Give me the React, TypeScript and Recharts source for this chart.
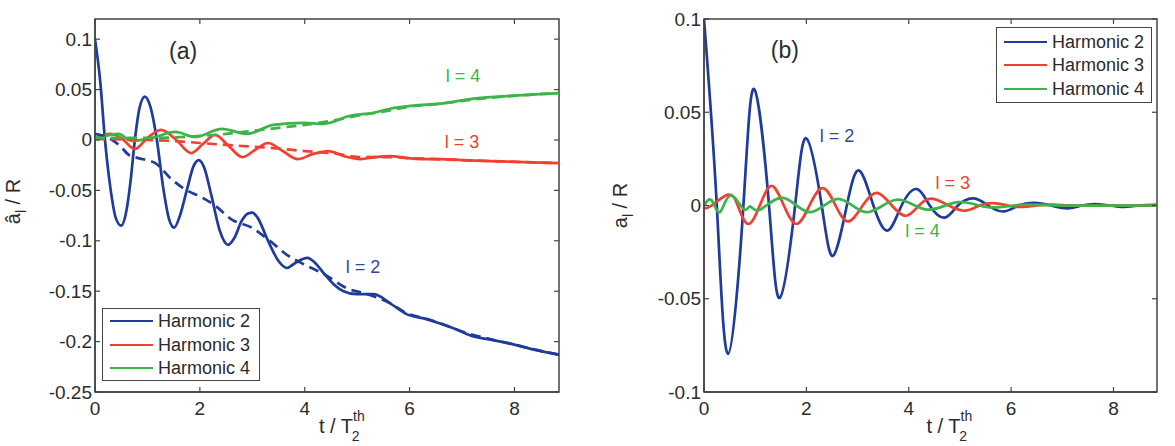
import React from 'react';
import { LineChart, Line, XAxis, YAxis, ReferenceArea, ReferenceDot, Legend } from 'recharts';

const FONT = '"Liberation Sans", Arial, Helvetica, sans-serif';
const BLUE = '#1f3b9b';
const RED = '#f2402f';
const GREEN = '#3cb44a';
const AXIS = '#444444';
const TXT = '#2b2b2b';

const xTicks = [0, 2, 4, 6, 8];
const yTicksA = [-0.25, -0.2, -0.15, -0.1, -0.05, 0, 0.05, 0.1];
const yTicksB = [-0.1, -0.05, 0, 0.05, 0.1];
const seriesNames = ['Harmonic 2', 'Harmonic 3', 'Harmonic 4'];
const X_MAX = 8.85;
const Y_DOMAIN_A: [number, number] = [-0.25, 0.12];
const Y_DOMAIN_B: [number, number] = [-0.1, 0.1];

// ---- panel (a) ----
const aH2Solid = [
  [0, 0.1], [0.1, 0.058], [0.19, 0.0], [0.3, -0.05], [0.4, -0.078], [0.5, -0.085], [0.6, -0.07], [0.68, -0.04],
  [0.76, 0], [0.85, 0.032], [0.95, 0.043], [1.05, 0.034], [1.18, 0], [1.3, -0.047], [1.41, -0.078], [1.51, -0.087],
  [1.62, -0.075], [1.75, -0.05], [1.88, -0.026], [1.98, -0.02], [2.08, -0.027], [2.22, -0.055], [2.38, -0.09],
  [2.54, -0.104], [2.66, -0.097], [2.8, -0.08], [2.92, -0.073], [3.0, -0.072], [3.1, -0.077], [3.3, -0.1],
  [3.5, -0.12], [3.66, -0.127], [3.82, -0.122], [4.05, -0.117], [4.2, -0.122], [4.36, -0.132], [4.55, -0.143],
  [4.74, -0.15], [4.99, -0.153], [5.31, -0.153], [5.63, -0.162], [5.95, -0.173], [6.27, -0.177], [6.58, -0.182],
  [6.9, -0.188], [7.22, -0.195], [7.54, -0.198], [7.92, -0.202], [8.37, -0.208], [8.85, -0.213],
];
const aH2Dash = [
  [0, 0.006], [0.3, 0.001], [0.48, -0.006], [0.65, -0.015], [0.83, -0.018], [1.15, -0.023], [1.46, -0.039],
  [1.72, -0.049], [2.04, -0.057], [2.29, -0.065], [2.61, -0.079], [2.99, -0.087], [3.31, -0.099], [3.69, -0.115],
  [3.97, -0.123], [4.4, -0.134], [4.8, -0.147], [5.2, -0.153], [5.63, -0.162], [5.95, -0.172], [6.3, -0.177],
  [6.6, -0.182], [7.0, -0.19], [7.5, -0.197], [8.0, -0.203], [8.4, -0.208], [8.85, -0.213],
];
const aH3Solid = [
  [0, 0.001], [0.3, 0.006], [0.5, 0.002], [0.76, -0.009], [1.0, 0.002], [1.26, 0.01], [1.55, 0.0], [1.83, -0.013],
  [2.06, -0.004], [2.29, 0.005], [2.55, -0.006], [2.81, -0.017], [3.05, -0.01], [3.3, -0.003], [3.58, -0.011],
  [3.87, -0.019], [4.15, -0.014], [4.45, -0.011], [4.75, -0.016], [5.06, -0.019], [5.35, -0.017], [5.63, -0.016],
  [5.95, -0.018], [6.26, -0.019], [6.6, -0.019], [7.0, -0.02], [7.54, -0.021], [8.2, -0.022], [8.85, -0.023],
];
const aH3Dash = [
  [0, 0.001], [1.0, 0.0], [1.5, -0.001], [2.0, -0.003], [2.8, -0.006], [3.4, -0.008], [4.0, -0.011], [4.5, -0.013],
  [5.1, -0.017], [5.6, -0.017], [6.0, -0.018], [6.5, -0.019], [7.0, -0.02], [7.6, -0.021], [8.2, -0.022], [8.85, -0.023],
];
const aH4Solid = [
  [0, 0.002], [0.2, 0.004], [0.45, 0.006], [0.7, -0.001], [1.08, 0.002], [1.53, 0.008], [1.91, 0.003], [2.42, 0.011],
  [2.9, 0.006], [3.4, 0.015], [3.98, 0.017], [4.36, 0.016], [4.87, 0.024], [5.31, 0.027], [5.63, 0.031],
  [6.07, 0.034], [6.58, 0.036], [7.22, 0.041], [7.86, 0.0435], [8.85, 0.0465],
];
const aH4Dash = [
  [0, 0.002], [1.0, 0.002], [2.0, 0.004], [2.5, 0.006], [3.0, 0.009], [3.5, 0.012], [4.0, 0.015], [4.5, 0.019],
  [5.0, 0.024], [5.5, 0.028], [6.0, 0.033], [6.6, 0.036], [7.2, 0.04], [7.9, 0.0435], [8.85, 0.0465],
];

// ---- panel (b) ----
const bH2 = [
  [0, 0.1], [0.25, 0], [0.47, -0.0796], [0.77, 0], [0.98, 0.0624], [1.27, 0], [1.48, -0.0495], [1.78, 0],
  [2.0, 0.036], [2.3, 0], [2.52, -0.027], [2.79, 0], [3.03, 0.0188], [3.31, 0], [3.59, -0.0134], [3.86, 0],
  [4.16, 0.0088], [4.41, 0], [4.7, -0.0065], [4.96, 0], [5.27, 0.0038], [5.55, 0], [5.85, -0.0032], [6.15, 0],
  [6.45, 0.0014], [6.78, 0], [7.1, -0.0015], [7.38, 0], [7.65, 0.0008], [7.93, 0], [8.2, -0.0008], [8.5, 0],
  [8.85, 0.0003],
];
const bH3 = [
  [0, -0.0015], [0.15, 0], [0.47, 0.0058], [0.66, 0], [0.86, -0.0099], [1.09, 0], [1.32, 0.0105], [1.56, 0],
  [1.81, -0.0099], [2.06, 0], [2.32, 0.0093], [2.57, 0], [2.82, -0.0085], [3.1, 0], [3.38, 0.0068], [3.67, 0],
  [3.95, -0.0055], [4.2, 0], [4.45, 0.0037], [4.78, 0], [5.1, -0.0028], [5.38, 0], [5.65, 0.0013], [5.93, 0],
  [6.2, -0.0008], [6.5, 0], [6.8, 0.0005], [7.3, 0], [8.85, 0],
];
const bH4 = [
  [0, 0.0], [0.15, 0.0027], [0.31, -0.0036], [0.51, 0.0054], [0.77, -0.0018], [0.9, -0.0005], [1.09, -0.0023],
  [1.55, 0.0041], [2.07, -0.0036], [2.62, 0.0036], [3.17, -0.0036], [3.76, 0.0031], [4.35, -0.0022],
  [4.95, 0.0018], [5.55, -0.0009], [6.15, 0.0003], [7.0, 0], [8.85, 0],
];

const pts = (rows: number[][]) => rows.map(([t, v]) => ({ t, v }));
const colors = [BLUE, RED, GREEN];

function XTick(props: any) {
  const { x, y, payload, plotTop } = props;
  return (
    <g>
      <line x1={x} x2={x} y1={y} y2={y - 5} stroke={AXIS} strokeWidth={1.2} />
      <line x1={x} x2={x} y1={plotTop} y2={plotTop + 5} stroke={AXIS} strokeWidth={1.2} />
      <text x={x} y={y + 23} textAnchor="middle" fill={TXT} fontSize={19} fontFamily={FONT}>
        {String(payload.value)}
      </text>
    </g>
  );
}

function YTick(props: any) {
  const { x, y, payload, plotRight } = props;
  return (
    <g>
      <line x1={x} x2={x + 5} y1={y} y2={y} stroke={AXIS} strokeWidth={1.2} />
      <line x1={plotRight} x2={plotRight - 5} y1={y} y2={y} stroke={AXIS} strokeWidth={1.2} />
      <text x={x - 3} y={y} textAnchor="end" dominantBaseline="central" fill={TXT} fontSize={19} fontFamily={FONT}>
        {String(payload.value)}
      </text>
    </g>
  );
}

function XLabel(props: any) {
  const { viewBox, shift } = props;
  const start = viewBox.x + viewBox.width / 2 + shift;
  const base = viewBox.y + 41;
  return (
    <text x={start} y={base} fontSize={20} fill={TXT} fontFamily={FONT}>
      t / T
      <tspan dy={-12} fontSize={14}>th</tspan>
      <tspan dx={-13} dy={20} fontSize={14}>2</tspan>
    </text>
  );
}

function YLabel(props: any) {
  const { viewBox, symbol, baseX, shiftY } = props;
  const cy = viewBox.y + viewBox.height / 2 + shiftY;
  return (
    <text transform={`translate(${baseX}, ${cy}) rotate(-90)`} x={0} y={0} textAnchor="middle" fontSize={20} fill={TXT} fontFamily={FONT}>
      {symbol}
      <tspan dy={6} fontSize={14}>l</tspan>
      <tspan dy={-6}> / R</tspan>
    </text>
  );
}

function LegendBox(props: any) {
  const { payload, w, h } = props;
  const items = (payload || []).filter((it: any) => it.type !== 'none' && seriesNames.includes(it.value));
  return (
    <div
      style={{
        width: w,
        height: h,
        boxSizing: 'border-box',
        border: `1.5px solid ${AXIS}`,
        background: '#fff',
        display: 'flex',
        flexDirection: 'column',
        justifyContent: 'center',
      }}
    >
      {items.map((it: any) => (
        <div key={it.value} style={{ display: 'flex', alignItems: 'center', height: 23.5 }}>
          <div style={{ width: 43, height: 0, borderTop: `2.5px solid ${it.color}`, marginLeft: 7, marginRight: 5 }} />
          <span style={{ fontSize: 18, lineHeight: '20px', color: TXT, fontFamily: FONT }}>{it.value}</span>
        </div>
      ))}
    </div>
  );
}

function Note({ x, y, text, color, size }: any) {
  return (
    <ReferenceDot
      x={x}
      y={y}
      r={0}
      fill="none"
      stroke="none"
      label={{ value: text, position: 'center', fill: color, fontSize: size, fontFamily: FONT }}
    />
  );
}

export default function App() {
  const solidA = [aH2Solid, aH3Solid, aH4Solid];
  const dashA = [aH2Dash, aH3Dash, aH4Dash];
  const seriesB = [bH2, bH3, bH4];
  return (
    <div style={{ position: 'absolute', left: 0, top: 0, width: 1175, height: 446, background: '#fff' }}>
      <div style={{ position: 'absolute', left: 0, top: 0 }}>
        <LineChart width={600} height={446} margin={{ top: 19, right: 41, bottom: 0, left: 0 }}>
          <XAxis
            type="number"
            dataKey="t"
            domain={[0, X_MAX]}
            ticks={xTicks}
            interval={0}
            allowDataOverflow
            height={54}
            tickSize={0}
            tickMargin={0}
            axisLine={{ stroke: AXIS, strokeWidth: 1.5 }}
            tickLine={false}
            tick={<XTick plotTop={19} />}
            label={<XLabel shift={-8} />}
          />
          <YAxis
            type="number"
            domain={Y_DOMAIN_A}
            ticks={yTicksA}
            interval={0}
            allowDataOverflow
            width={95}
            tickSize={0}
            tickMargin={0}
            axisLine={{ stroke: AXIS, strokeWidth: 1.5 }}
            tickLine={false}
            tick={<YTick plotRight={559} />}
            label={<YLabel symbol="â" baseX={20} shiftY={-4} />}
          />
          <ReferenceArea x1={0} x2={X_MAX} y1={Y_DOMAIN_A[0]} y2={Y_DOMAIN_A[1]} fill="none" stroke={AXIS} strokeWidth={1.5} />
          {solidA.map((d, i) => (
            <Line
              key={'s' + i}
              data={pts(d)}
              dataKey="v"
              name={seriesNames[i]}
              type="monotone"
              stroke={colors[i]}
              strokeWidth={2.7}
              dot={false}
              isAnimationActive={false}
            />
          ))}
          {dashA.map((d, i) => (
            <Line
              key={'d' + i}
              data={pts(d)}
              dataKey="v"
              name={seriesNames[i] + ' (model)'}
              type="monotone"
              stroke={colors[i]}
              strokeWidth={2.7}
              strokeDasharray="10 6"
              dot={false}
              legendType="none"
              isAnimationActive={false}
            />
          ))}
          <Note x={1.68} y={0.0886} text="(a)" color={TXT} size={23} />
          <Note x={7.02} y={0.0637} text="l = 4" color={GREEN} size={18} />
          <Note x={7.0} y={-0.002} text="l = 3" color={RED} size={18} />
          <Note x={5.11} y={-0.1255} text="l = 2" color="#34479f" size={18} />
          <Legend
            layout="horizontal"
            verticalAlign="middle"
            align="center"
            wrapperStyle={{ position: 'absolute', left: 102, top: 308, width: 158, height: 73 }}
            content={<LegendBox w={158} h={73} />}
          />
        </LineChart>
      </div>
      <div style={{ position: 'absolute', left: 600, top: 0 }}>
        <LineChart width={575} height={446} margin={{ top: 19, right: 18, bottom: 0, left: 0 }}>
          <XAxis
            type="number"
            dataKey="t"
            domain={[0, X_MAX]}
            ticks={xTicks}
            interval={0}
            allowDataOverflow
            height={54}
            tickSize={0}
            tickMargin={0}
            axisLine={{ stroke: AXIS, strokeWidth: 1.5 }}
            tickLine={false}
            tick={<XTick plotTop={19} />}
            label={<XLabel shift={-4} />}
          />
          <YAxis
            type="number"
            domain={Y_DOMAIN_B}
            ticks={yTicksB}
            interval={0}
            allowDataOverflow
            width={104}
            tickSize={0}
            tickMargin={0}
            axisLine={{ stroke: AXIS, strokeWidth: 1.5 }}
            tickLine={false}
            tick={<YTick plotRight={557} />}
            label={<YLabel symbol="a" baseX={27} shiftY={0} />}
          />
          <ReferenceArea x1={0} x2={X_MAX} y1={Y_DOMAIN_B[0]} y2={Y_DOMAIN_B[1]} fill="none" stroke={AXIS} strokeWidth={1.5} />
          {seriesB.map((d, i) => (
            <Line
              key={'b' + i}
              data={pts(d)}
              dataKey="v"
              name={seriesNames[i]}
              type="natural"
              stroke={colors[i]}
              strokeWidth={2.7}
              dot={false}
              isAnimationActive={false}
            />
          ))}
          <Note x={1.58} y={0.0833} text="(b)" color={TXT} size={23} />
          <Note x={2.6} y={0.0376} text="l = 2" color="#34479f" size={18} />
          <Note x={4.86} y={0.0124} text="l = 3" color={RED} size={18} />
          <Note x={4.27} y={-0.0134} text="l = 4" color={GREEN} size={18} />
          <Legend
            layout="horizontal"
            verticalAlign="middle"
            align="center"
            wrapperStyle={{ position: 'absolute', left: 396, top: 27, width: 156, height: 76 }}
            content={<LegendBox w={156} h={76} />}
          />
        </LineChart>
      </div>
    </div>
  );
}
